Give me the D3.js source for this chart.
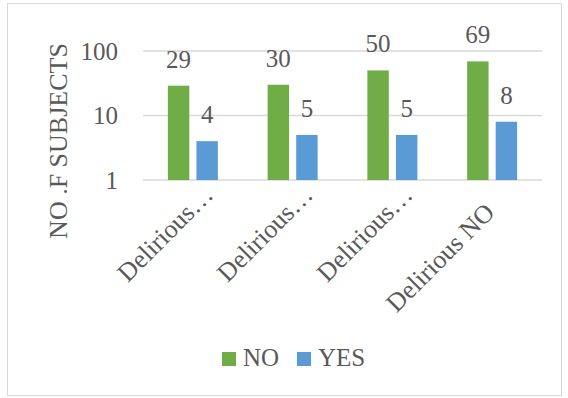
<!DOCTYPE html>
<html>
<head>
<meta charset="utf-8">
<script src="https://cdn.jsdelivr.net/npm/d3@7"></script>
<style>
  body { margin: 0; background: #fff; }
</style>
</head>
<body>
<div id="chart"></div>
<script>
// chart data
var categories = ["Delirious…", "Delirious…", "Delirious…", "Delirious NO"];
var seriesNames = ["NO", "YES"];
var noValues = [29, 30, 50, 69];
var yesValues = [4, 5, 5, 8];
var yTicks = [1, 10, 100];
var colors = ["#70AD47", "#5B9BD5"];

var W = 568, H = 398;
var margin = { top: 51, right: 26, bottom: 218, left: 143 };
var width = W - margin.left - margin.right,
    height = H - margin.top - margin.bottom;

var FONT = "'Liberation Serif'";
var TEXT = "#595959";

var svg = d3.select("#chart").append("svg")
    .attr("width", W)
    .attr("height", H);

// outer border
svg.append("rect")
    .attr("x", 7.5).attr("y", 3.5)
    .attr("width", W - 14).attr("height", H - 6)
    .attr("fill", "none")
    .attr("stroke", "#d9d9d9");

var g = svg.append("g")
    .attr("transform", "translate(" + margin.left + "," + margin.top + ")");

var x0 = d3.scaleBand()
    .domain(d3.range(categories.length))
    .range([0, width]);

var x1 = d3.scaleBand()
    .domain(seriesNames)
    .range([x0.bandwidth() / 2 - 25, x0.bandwidth() / 2 + 25])
    .paddingInner(0.25);

var y = d3.scaleLog()
    .domain([1, 100])
    .range([height, 0]);

// gridlines
g.selectAll(".grid")
    .data(yTicks)
    .enter().append("line")
    .attr("class", "grid")
    .attr("x1", 0).attr("x2", width)
    .attr("y1", function(d){ return y(d); })
    .attr("y2", function(d){ return y(d); })
    .attr("stroke", "#d9d9d9")
    .attr("stroke-width", 1.5);

// y axis labels
var yAxis = d3.axisLeft(y)
    .tickValues(yTicks)
    .tickFormat(d3.format("d"))
    .tickSize(0)
    .tickPadding(25);

g.append("g")
    .attr("class", "y-axis")
    .call(yAxis)
    .call(function(s){ s.select(".domain").remove(); })
    .selectAll("text")
    .style("font-family", FONT)
    .style("font-size", "25px")
    .style("fill", TEXT)
    .attr("dy", "0.33em");

// x axis labels (truncated ones sit a little further up the slope)
var xAxis = d3.axisBottom(x0)
    .tickFormat(function(i){ return categories[i]; })
    .tickSize(0);

g.append("g")
    .attr("class", "x-axis")
    .attr("transform", "translate(0," + height + ")")
    .call(xAxis)
    .call(function(s){ s.select(".domain").remove(); })
    .selectAll("text")
    .style("font-family", FONT)
    .style("font-size", "26px")
    .style("fill", TEXT)
    .style("text-anchor", "end")
    .attr("x", function(i){ return categories[i].slice(-1) == "…" ? 25 : 0; })
    .attr("y", 0)
    .attr("dy", 0)
    .attr("transform", "translate(4,34) rotate(-45)");

// bars
var rows = categories.map(function(c, i){
    return [{ key: "NO", value: noValues[i] }, { key: "YES", value: yesValues[i] }];
});

var groups = g.selectAll(".cat")
    .data(rows)
    .enter().append("g")
    .attr("class", "cat")
    .attr("transform", function(d, i){ return "translate(" + x0(i) + ",0)"; });

groups.selectAll("rect")
    .data(function(d){ return d; })
    .enter().append("rect")
    .attr("x", function(d){ return x1(d.key); })
    .attr("width", x1.bandwidth())
    .attr("y", function(d){ return y(d.value); })
    .attr("height", function(d){ return height - y(d.value); })
    .attr("fill", function(d, i){ return colors[i]; });

groups.selectAll(".lbl")
    .data(function(d){ return d; })
    .enter().append("text")
    .attr("class", "lbl")
    .attr("x", function(d){ return x1(d.key) + x1.bandwidth() / 2; })
    .attr("y", function(d){ return y(d.value) - 18; })
    .attr("text-anchor", "middle")
    .style("font-family", FONT)
    .style("font-size", "25px")
    .style("fill", TEXT)
    .text(function(d){ return d.value; });

// y axis title
svg.append("text")
    .attr("transform", "translate(67,141) rotate(-90)")
    .attr("text-anchor", "middle")
    .style("font-family", FONT)
    .style("font-size", "26px")
    .style("fill", TEXT)
    .text("NO .F SUBJECTS");

// legend
var legendX = [222, 297];
var legend = svg.selectAll(".legend")
    .data(seriesNames)
    .enter().append("g")
    .attr("class", "legend")
    .attr("transform", function(d, i){ return "translate(" + legendX[i] + ",352)"; });

legend.append("rect")
    .attr("width", 14).attr("height", 14)
    .attr("fill", function(d, i){ return colors[i]; });

legend.append("text")
    .attr("x", 21).attr("y", 14)
    .style("font-family", FONT)
    .style("font-size", "25px")
    .style("fill", TEXT)
    .text(function(d){ return d; });
</script>
</body>
</html>
